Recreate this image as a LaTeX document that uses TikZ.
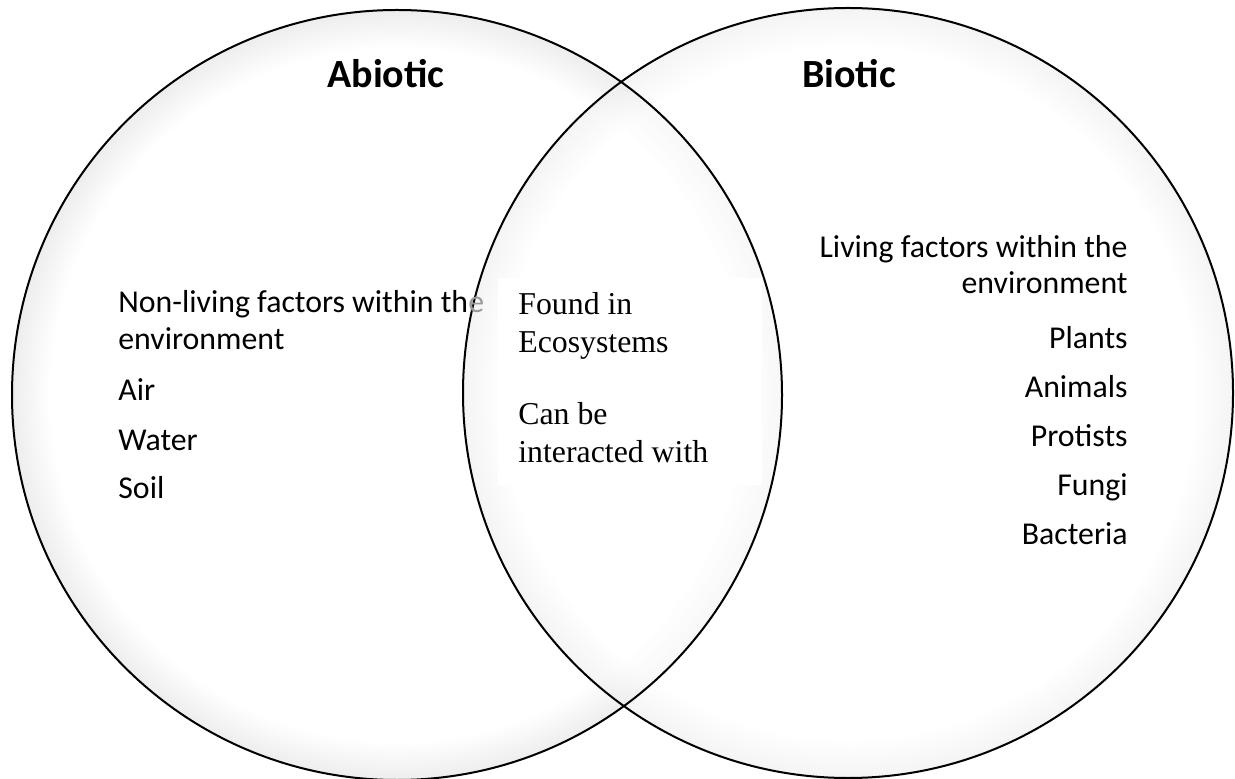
\documentclass[tikz,border=0pt]{standalone}
\usepackage{fontspec}
\setmainfont{Carlito}
\newfontfamily\seriffont{Liberation Serif}
\pgfdeclareradialshading{vennfade}{\pgfpoint{0bp}{0bp}}{color(0bp)=(white); color(22.5bp)=(white); color(25bp)=(black!7)}
\begin{document}
\begin{tikzpicture}[x=0.5pt,y=-0.5pt,
  body/.style={font=\fontsize{15.9}{17.5}\selectfont, inner sep=0pt},
  mid/.style={font=\seriffont\fontsize{15.9}{17.5}\selectfont, inner sep=0pt},
  head/.style={font=\fontsize{20}{24}\selectfont\bfseries, inner sep=0pt},
  ring/.style={draw=black, line width=1pt}]
\useasboundingbox (0,0) rectangle (1235,779);
\fill[white] (0,0) rectangle (1235,779);
% circle fills
\shade[shading=vennfade] (397,395) circle[radius=192.5pt];
\shade[shading=vennfade, fill opacity=0.6] (848,393) circle[radius=192.5pt];
% centre box
\fill[white] (498,278) rectangle (762,485);
% outlines
\draw[ring] (397,395) circle[radius=192.5pt];
\draw[ring] (848,393) circle[radius=192.5pt];
% headings
\node[head, anchor=base] (ha) at (386,88) {Abiotic};
\node[head, anchor=base] (hb) at (849,88) {Biotic};
% left text
\node[body, anchor=base west] (l1) at (118,313) {Non-living factors within th\textcolor{black!40}{e}};
\node[body, anchor=base west] (l2) at (118,350) {environment};
\node[body, anchor=base west] (l3) at (118,401) {Air};
\node[body, anchor=base west] (l4) at (118,451) {Water};
\node[body, anchor=base west] (l5) at (118,499) {Soil};
% centre text
\node[mid, anchor=base west] (c1) at (518,315) {Found in};
\node[mid, anchor=base west] (c2) at (518,353) {Ecosystems};
\node[mid, anchor=base west] (c3) at (518,425) {Can be};
\node[mid, anchor=base west] (c4) at (518,463) {interacted with};
% right text
\node[body, anchor=base east] (r1) at (1128,258) {Living factors within the};
\node[body, anchor=base east] (r2) at (1128,294) {environment};
\node[body, anchor=base east] (r3) at (1128,349) {Plants};
\node[body, anchor=base east] (r4) at (1128,398) {Animals};
\node[body, anchor=base east] (r5) at (1128,447) {Protists};
\node[body, anchor=base east] (r6) at (1128,496) {Fungi};
\node[body, anchor=base east] (r7) at (1128,545) {Bacteria};
\end{tikzpicture}
\end{document}
